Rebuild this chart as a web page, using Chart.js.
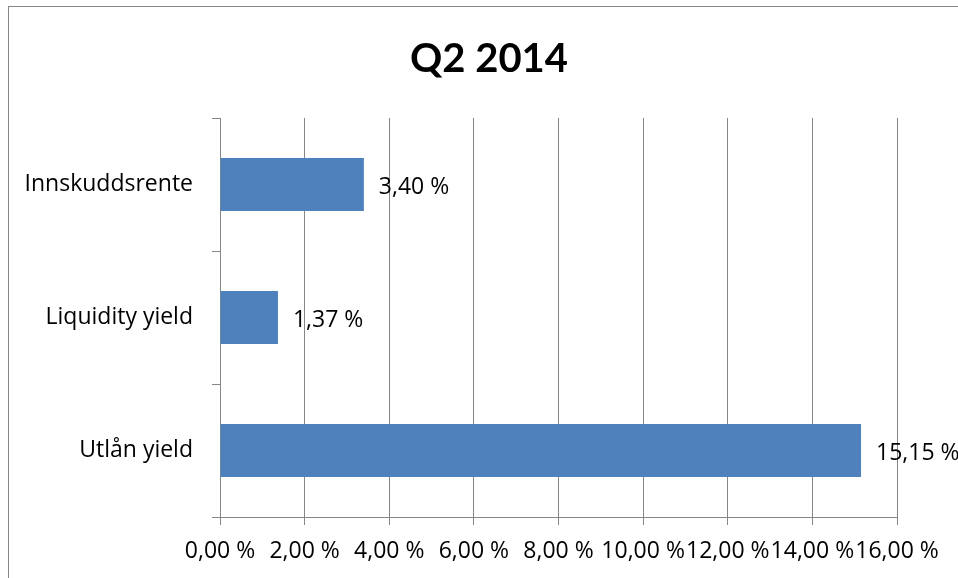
<!DOCTYPE html>
<html>
<head>
<meta charset="utf-8">
<style>
  html, body { margin: 0; padding: 0; background: #fff; overflow: hidden; width: 958px; height: 578px; }
  .frame { position: absolute; left: 8px; top: 6px; width: 1000px; height: 620px; border: 1px solid #868686; }
  .wrap { position: absolute; left: 0; top: 0; width: 984px; height: 578px; }
</style>
<script src="https://cdn.jsdelivr.net/npm/chart.js@4/dist/chart.umd.min.js"></script>
</head>
<body>
<div class="frame"></div>
<div class="wrap"><canvas id="chart" width="984" height="578"></canvas></div>
<script>
// chart data
const chartTitle = 'Q2 2014';
const categories = ['Innskuddsrente', 'Liquidity yield', 'Utlån yield'];
const values = [3.40, 1.37, 15.15];
const tickValues = [0, 2, 4, 6, 8, 10, 12, 14, 16];

const fmt = (v) => v.toFixed(2).replace('.', ',') + ' %';
const font = 'Open Sans';
const gridColor = '#868686';

// title centred on the whole frame, not on the plot
const frameTitle = {
  id: 'frameTitle',
  afterDraw(chart) {
    const ctx = chart.ctx;
    ctx.save();
    ctx.font = 'bold 40px Lato';
    ctx.fillStyle = '#000';
    ctx.textAlign = 'center';
    ctx.textBaseline = 'alphabetic';
    ctx.fillText(chartTitle, 489, 72);
    ctx.restore();
  }
};

// value labels to the right of each bar
const valueLabels = {
  id: 'valueLabels',
  afterDatasetsDraw(chart) {
    const ctx = chart.ctx;
    const meta = chart.getDatasetMeta(0);
    ctx.save();
    ctx.font = '23px ' + font;
    ctx.fillStyle = '#000';
    ctx.textAlign = 'left';
    ctx.textBaseline = 'middle';
    meta.data.forEach((bar, i) => {
      ctx.fillText(fmt(values[i]), bar.x + 15, bar.y + 3);
    });
    ctx.restore();
  }
};

new Chart(document.getElementById('chart'), {
  type: 'bar',
  data: {
    labels: categories,
    datasets: [{
      data: values,
      backgroundColor: '#4F81BD',
      borderWidth: 0,
      categoryPercentage: 1,
      barPercentage: 0.4
    }]
  },
  options: {
    indexAxis: 'y',
    responsive: false,
    animation: false,
    layout: { padding: { left: 0, right: 87, top: 118, bottom: 0 } },
    plugins: {
      legend: { display: false },
      tooltip: { enabled: false },
      title: { display: false }
    },
    scales: {
      x: {
        min: 0,
        max: 16,
        afterBuildTicks: (axis) => { axis.ticks = tickValues.map(v => ({ value: v })); },
        afterFit: (axis) => { axis.height = 61; },
        grid: { color: gridColor, lineWidth: 1, tickLength: 8, drawTicks: true },
        border: { display: true, color: gridColor, width: 1 },
        ticks: {
          autoSkip: false,
          maxRotation: 0,
          padding: 13,
          color: '#000',
          font: { family: font, size: 23 },
          callback: (v) => fmt(v)
        }
      },
      y: {
        afterFit: (axis) => { axis.width = 220; },
        grid: { offset: true, drawOnChartArea: false, drawTicks: true, tickLength: 8, color: gridColor },
        border: { display: true, color: gridColor, width: 1 },
        ticks: {
          padding: 19,
          color: '#000',
          font: { family: font, size: 23 }
        }
      }
    }
  },
  plugins: [valueLabels, frameTitle]
});
</script>
</body>
</html>
